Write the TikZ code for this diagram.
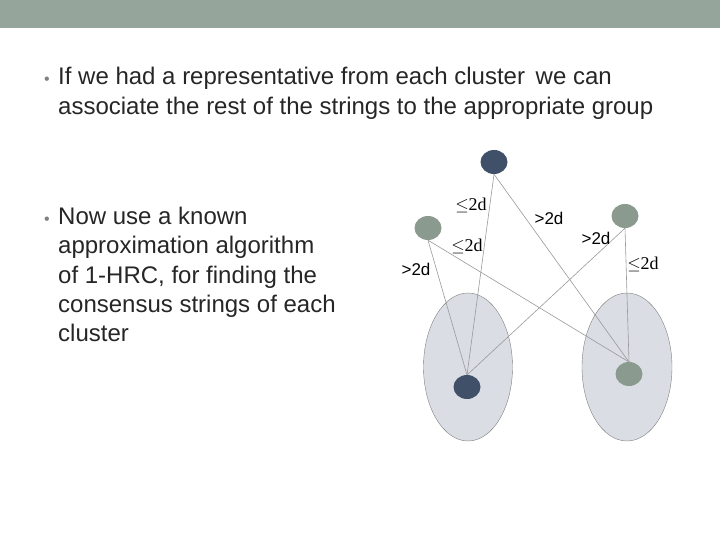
\documentclass[tikz,border=0pt]{standalone}
\usepackage{fontspec}
\usetikzlibrary{shapes.geometric}
\setmainfont{Liberation Sans}
\newfontfamily\serifx{Liberation Serif}
\definecolor{dkc}{HTML}{3F5068}
\definecolor{ltc}{HTML}{8A9A8E}
\definecolor{clc}{HTML}{DADDE4}
\definecolor{barc}{HTML}{95A59B}
\begin{document}
\begin{tikzpicture}[x=1pt,y=-1pt,
  txt/.style={anchor=base west,inner sep=0,font=\fontsize{24}{28}\selectfont,text=black!85},
  bul/.style={anchor=base west,inner sep=0,font=\fontsize{16}{18}\selectfont,text=gray},
  dk/.style={ellipse,minimum width=27,minimum height=24,inner sep=0,fill=dkc},
  lt/.style={ellipse,minimum width=27,minimum height=24,inner sep=0,fill=ltc},
  cl/.style={draw=gray,fill=clc},
  ln/.style={draw=gray!80,line width=0.6pt},
  le/.style={font=\serifx\fontsize{18}{20}\selectfont,inner sep=0},
  gt/.style={font=\fontsize{17}{19}\selectfont,inner sep=0}]
\useasboundingbox (0,0) rectangle (720,540);
\fill[barc] (0,0) rectangle (720,28);
\node[bul] (b1) at (44,85) {•};
\node[txt] (t1) at (58,85) {If we had a representative from each cluster\, we can};
\node[txt] (t2) at (58,115) {associate the rest of the strings to the appropriate group};
\node[bul] (b2) at (44,225) {•};
\node[txt] (t3) at (58,225) {Now use a known};
\node[txt] (t4) at (58,254) {approximation algorithm};
\node[txt] (t5) at (58,283) {of 1-HRC, for finding the};
\node[txt] (t6) at (58,312) {consensus strings of each};
\node[txt] (t7) at (58,341) {cluster};
\draw[cl] (468,367) ellipse (44.5 and 74);
\draw[cl] (627,367) ellipse (45 and 74);
\coordinate (pl) at (467,375);
\coordinate (pr) at (629,362);
\node[dk] (top) at (494,162) {};
\node[lt] (lg) at (428,228) {};
\node[lt] (rg) at (625,216) {};
\draw[ln] (top.south) -- (pl);
\draw[ln] (top.south) -- (pr);
\draw[ln] (lg.south) -- (pl);
\draw[ln] (lg.south) -- (pr);
\draw[ln] (rg.south) -- (pl);
\draw[ln] (rg.south) -- (pr);
\node[dk] (bl) at (467,387) {};
\node[lt] (br) at (629,374) {};
\node[le] (l1) at (471,205) {$\leq$2d};
\node[gt] (l2) at (549,218) {>2d};
\node[le] (l3) at (467,246) {$\leq$2d};
\node[gt] (l4) at (596,238) {>2d};
\node[gt] (l5) at (416,269) {>2d};
\node[le] (l6) at (643,264) {$\leq$2d};
\end{tikzpicture}
\end{document}
